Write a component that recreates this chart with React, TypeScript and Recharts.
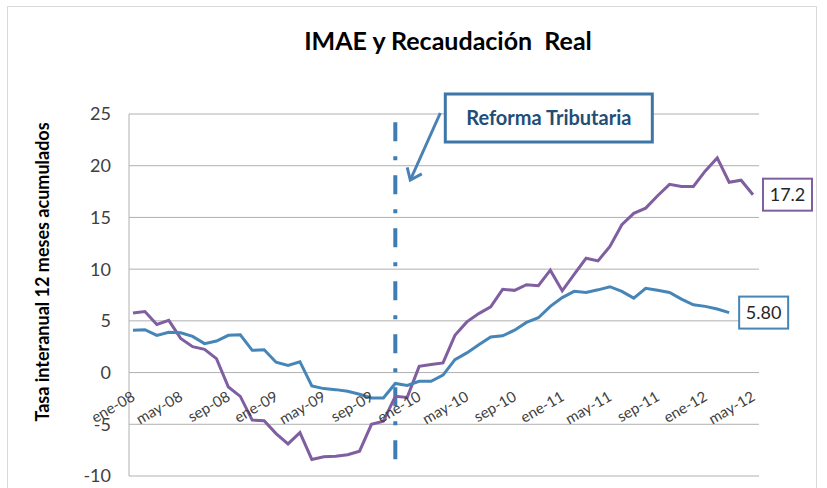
import React from 'react';
import { LineChart, Line, XAxis, YAxis, CartesianGrid, ReferenceLine, LabelList } from 'recharts';

const categories: string[] = [
  'ene-08','feb-08','mar-08','abr-08','may-08','jun-08','jul-08','ago-08','sep-08','oct-08','nov-08','dic-08',
  'ene-09','feb-09','mar-09','abr-09','may-09','jun-09','jul-09','ago-09','sep-09','oct-09','nov-09','dic-09',
  'ene-10','feb-10','mar-10','abr-10','may-10','jun-10','jul-10','ago-10','sep-10','oct-10','nov-10','dic-10',
  'ene-11','feb-11','mar-11','abr-11','may-11','jun-11','jul-11','ago-11','sep-11','oct-11','nov-11','dic-11',
  'ene-12','feb-12','mar-12','abr-12','may-12',
];

// Recaudación real (purple)
const recaudacion: number[] = [
  5.75, 5.9, 4.65, 5.05, 3.3, 2.5, 2.25, 1.35, -1.4, -2.3, -4.6, -4.65,
  -5.9, -6.9, -5.8, -8.4, -8.15, -8.1, -7.95, -7.6, -5.0, -4.7, -2.3, -2.4,
  0.6, 0.77, 0.93, 3.6, 4.9, 5.7, 6.35, 8.05, 7.95, 8.5, 8.4, 9.9,
  7.9, 9.5, 11.05, 10.8, 12.2, 14.3, 15.4, 15.9, 17.1, 18.2, 18.0, 18.0,
  19.5, 20.75, 18.4, 18.6, 17.2,
];

// IMAE (blue)
const imae: (number | null)[] = [
  4.1, 4.15, 3.6, 3.9, 3.85, 3.5, 2.8, 3.05, 3.6, 3.65, 2.15, 2.2,
  1.0, 0.7, 1.05, -1.3, -1.55, -1.65, -1.8, -2.1, -2.45, -2.45, -1.05, -1.25,
  -0.85, -0.84, -0.25, 1.25, 1.9, 2.7, 3.45, 3.55, 4.1, 4.85, 5.3, 6.4,
  7.25, 7.85, 7.75, 8.0, 8.3, 7.85, 7.2, 8.15, 7.95, 7.75, 7.1, 6.55,
  6.4, 6.15, 5.8, null, null,
];

const yTicks: number[] = [-10, -5, 0, 5, 10, 15, 20, 25];
const reformaMes = 'nov-09';
const reformaTop = 24.2;
const reformaBottom = -8.6;

const data = categories.map((mes, i) => ({
  mes,
  recaudacion: recaudacion[i],
  imae: imae[i] ?? null,
}));

const W = 827;
const H = 488;
const PLOT_LEFT = 129;
const PLOT_RIGHT = 759;
const PLOT_TOP = 114;
const PLOT_BOTTOM = 476;
const Y_MIN = -10;
const Y_MAX = 25;

const FONT = 'Lato, "Open Sans", sans-serif';
const PURPLE = '#7F5FA0';
const BLUE = '#4585B8';
const TEXT = '#404040';
const GRID = '#B0B0B0';

const XTick = (props: any) => {
  const { x, payload } = props;
  const zeroY = PLOT_TOP + ((PLOT_BOTTOM - PLOT_TOP) * Y_MAX) / (Y_MAX - Y_MIN);
  const ax = x + 3;
  const ay = zeroY + 27;
  return (
    <text
      x={ax}
      y={ay}
      textAnchor="end"
      transform={`rotate(-30 ${ax} ${ay})`}
      fontSize={15}
      fill={TEXT}
      fontFamily={FONT}
    >
      {payload.value}
    </text>
  );
};

const endLabel = (color: string, lastIdx: number, digits: number) => (props: any) => {
  const { x, y, index, value } = props;
  if (index !== lastIdx || value == null) return null;
  const w = 49;
  const h = 32;
  const bx = x + 10;
  return (
    <g>
      <rect x={bx} y={y - h / 2} width={w} height={h} fill="#fff" stroke={color} strokeWidth={2} />
      <text
        x={bx + w / 2}
        y={y}
        dy="0.36em"
        textAnchor="middle"
        fontSize={18}
        fill="#262626"
        fontFamily={FONT}
      >
        {Number(value).toFixed(digits)}
      </text>
    </g>
  );
};

const ReformaLabel = (props: any) => {
  const vb = props.viewBox || {};
  const x = vb.x ?? 0;
  const top = vb.y ?? PLOT_TOP;
  const bx = x + 50;
  const by = top - 20;
  const bw = 207;
  const bh = 48;
  const sx = x + 45;
  const sy = top - 1;
  const ex = x + 15;
  const ey = top + 66;
  const dx = sx - ex;
  const dy = sy - ey;
  const len = Math.sqrt(dx * dx + dy * dy);
  const ux = dx / len;
  const uy = dy / len;
  const barb = 13;
  const ang = (38 * Math.PI) / 180;
  const rot = (a: number) => [ux * Math.cos(a) - uy * Math.sin(a), ux * Math.sin(a) + uy * Math.cos(a)];
  const [b1x, b1y] = rot(ang);
  const [b2x, b2y] = rot(-ang);
  return (
    <g>
      <line x1={sx} y1={sy} x2={ex} y2={ey} stroke="#4A80B4" strokeWidth={3} />
      <polyline
        points={`${ex + b1x * barb},${ey + b1y * barb} ${ex},${ey} ${ex + b2x * barb},${ey + b2y * barb}`}
        fill="none"
        stroke="#4A80B4"
        strokeWidth={3}
      />
      <rect x={bx} y={by} width={bw} height={bh} fill="#fff" stroke="#3E76A8" strokeWidth={3} />
      <text
        x={bx + bw / 2}
        y={by + bh / 2}
        dy="0.35em"
        textAnchor="middle"
        fontSize={20}
        fontWeight="bold"
        fill="#1F4E79"
        fontFamily={FONT}
      >
        Reforma Tributaria
      </text>
    </g>
  );
};

const YTitle = () => (
  <text
    x={43}
    y={272}
    transform="rotate(-90 43 272)"
    textAnchor="middle"
    dy="0.35em"
    fontSize={18}
    fontWeight="bold"
    fill="#000"
    fontFamily={FONT}
  >
    Tasa interanual 12 meses acumulados
  </text>
);

export default function App() {
  return (
    <div style={{ position: 'absolute', left: 0, top: 0, width: W, height: H, background: '#fff', overflow: 'hidden' }}>
      <div
        style={{
          position: 'absolute',
          left: 7,
          top: 6,
          width: 810,
          height: 500,
          border: '1px solid #D9D9D9',
          boxSizing: 'border-box',
        }}
      />
      <div
        style={{
          position: 'absolute',
          left: 0,
          top: 24,
          width: 896,
          textAlign: 'center',
          fontFamily: FONT,
          fontWeight: 'bold',
          fontSize: 25,
          color: '#000',
          whiteSpace: 'pre',
          lineHeight: '32px',
        }}
      >
        IMAE y Recaudación  Real
      </div>
      <div style={{ position: 'absolute', left: 0, top: 0 }}>
        <LineChart
          width={W}
          height={H}
          data={data}
          margin={{ top: PLOT_TOP, right: W - PLOT_RIGHT, bottom: H - PLOT_BOTTOM - 1, left: 0 }}
        >
          <CartesianGrid vertical={false} stroke={GRID} strokeWidth={1} />
          <XAxis
            dataKey="mes"
            interval={3}
            axisLine={false}
            tickLine={false}
            height={1}
            padding={{ left: 4, right: 6 }}
            tick={<XTick />}
          />
          <YAxis
            type="number"
            domain={[Y_MIN, Y_MAX]}
            ticks={yTicks}
            width={PLOT_LEFT}
            axisLine={{ stroke: GRID }}
            tickLine={false}
            tickSize={0}
            tickMargin={18}
            tick={{ fontSize: 18, fill: TEXT, fontFamily: FONT }}
            label={<YTitle />}
          />
          <ReferenceLine
            segment={[
              { x: reformaMes, y: reformaTop },
              { x: reformaMes, y: reformaBottom },
            ]}
            stroke="#3D7DB3"
            strokeWidth={4}
            strokeDasharray="19 15 4 15"
          />
          <ReferenceLine x={reformaMes} stroke="none" label={<ReformaLabel />} />
          <Line
            type="linear"
            dataKey="recaudacion"
            stroke={PURPLE}
            strokeWidth={3}
            dot={false}
            isAnimationActive={false}
          >
            <LabelList dataKey="recaudacion" content={endLabel(PURPLE, recaudacion.length - 1, 1)} />
          </Line>
          <Line
            type="linear"
            dataKey="imae"
            stroke={BLUE}
            strokeWidth={3}
            dot={false}
            isAnimationActive={false}
            connectNulls={false}
          >
            <LabelList dataKey="imae" content={endLabel(BLUE, 50, 2)} />
          </Line>
        </LineChart>
      </div>
    </div>
  );
}
